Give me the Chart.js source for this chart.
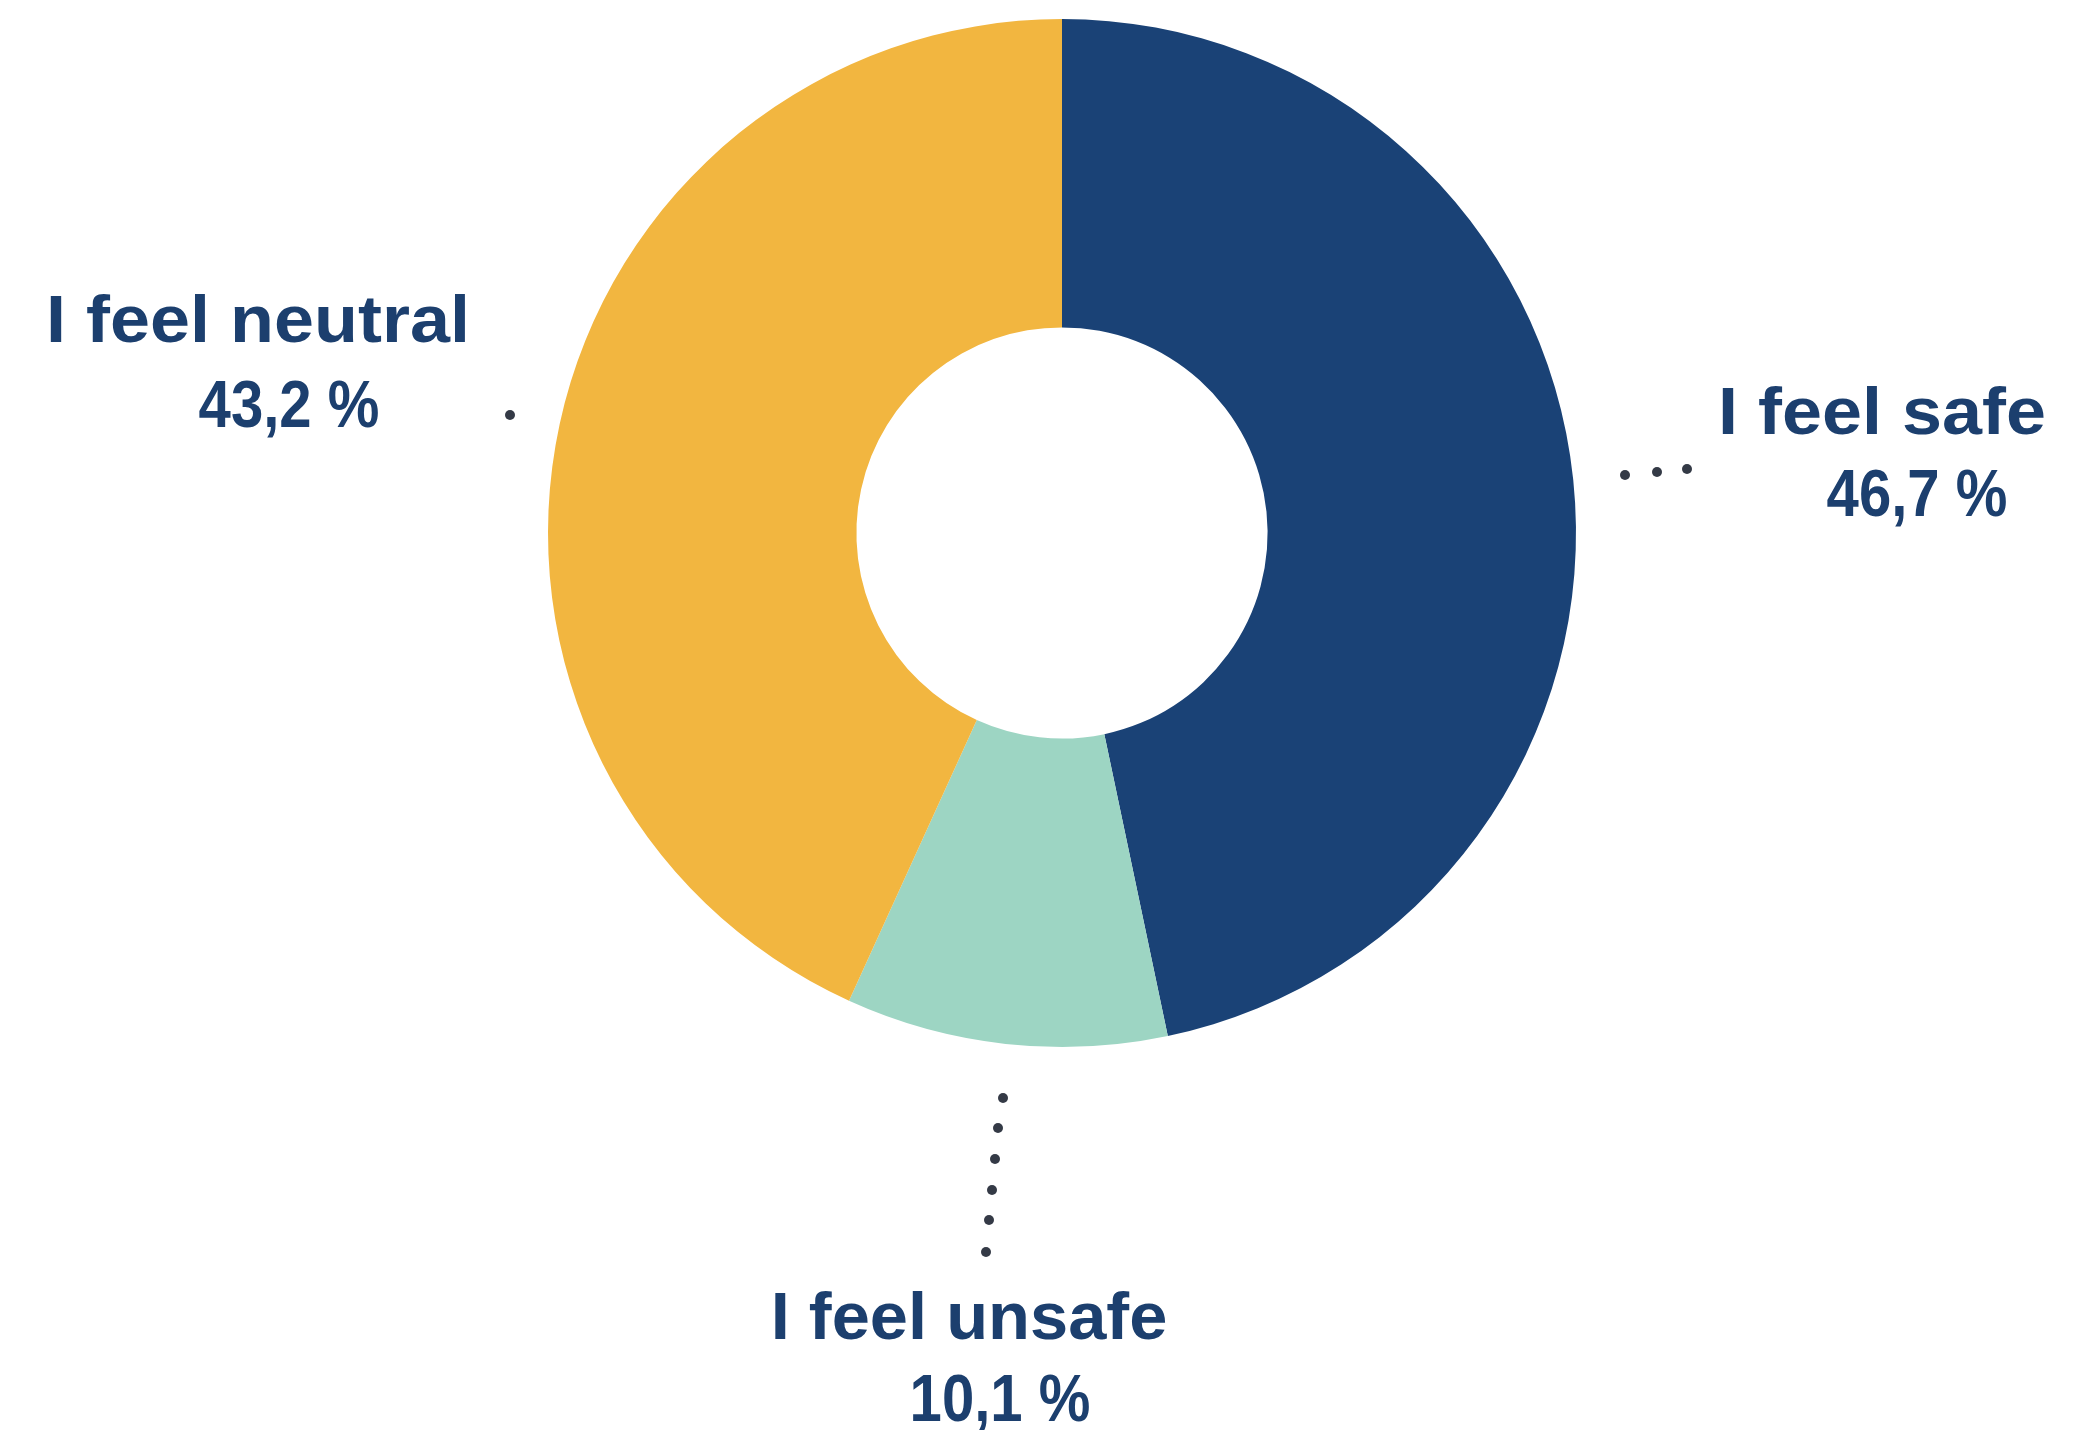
<!DOCTYPE html>
<html>
<head>
<meta charset="utf-8">
<script src="https://cdn.jsdelivr.net/npm/chart.js@4.4.1/dist/chart.umd.min.js"></script>
<style>
  html, body { margin: 0; padding: 0; background: #ffffff; }
  #wrap { width: 2095px; height: 1430px; position: relative; }
</style>
</head>
<body>
<div id="wrap"><canvas id="chart"></canvas></div>
<script>
// Data
const categories = ['I feel safe', 'I feel unsafe', 'I feel neutral'];
const shares = [46.7, 10.1, 43.2];
const sliceColors = ['#1a4276', '#9dd5c3', '#f2b640'];

const textColor = '#1c3f6e';
const dotColor = '#343a46';

// Label anchors, offsets from the donut centre (line 1, line 2)
const labelOffsets = [
  [[820, -117], [855, -35]],
  [[-93, 788], [-62, 870]],
  [[-804, -209], [-773, -124]],
];

// Leader dots, offsets from the donut centre
const leaderDots = [
  [[563, -58], [595, -61], [625, -64]],
  [[-59, 565], [-64, 595], [-67, 626], [-70, 657], [-73, 687], [-76, 719]],
  [[-552, -118]],
];

// Draws the labels and dotted leaders next to each slice
const labelPlugin = {
  id: 'sliceLabels',
  afterDatasetsDraw(chart) {
    const { ctx } = chart;
    const arc = chart.getDatasetMeta(0).data[0];
    const cx = arc.x;
    const cy = arc.y;

    ctx.save();
    ctx.fillStyle = dotColor;
    leaderDots.forEach((dots) => {
      dots.forEach(([dx, dy]) => {
        ctx.beginPath();
        ctx.arc(cx + dx, cy + dy, 5, 0, Math.PI * 2);
        ctx.fill();
      });
    });

    ctx.fillStyle = textColor;
    ctx.font = 'bold 66px "Liberation Sans Narrow", "Liberation Sans", sans-serif';
    ctx.textAlign = 'center';
    ctx.textBaseline = 'middle';

    // Horizontal stretch to get close to the handwritten source font
    const drawText = (text, x, y, stretch) => {
      ctx.save();
      ctx.translate(x, y);
      ctx.scale(stretch, 1);
      ctx.fillText(text, 0, 0);
      ctx.restore();
    };

    categories.forEach((name, i) => {
      const value = shares[i].toFixed(1).replace('.', ',') + ' %';
      const [l1, l2] = labelOffsets[i];
      drawText(name, cx + l1[0], cy + l1[1], i === 1 ? 1.04 : 1.09);
      drawText(value, cx + l2[0], cy + l2[1], 0.88);
    });
    ctx.restore();
  },
};

new Chart(document.getElementById('chart'), {
  type: 'doughnut',
  data: {
    labels: categories,
    datasets: [
      {
        data: shares,
        backgroundColor: sliceColors,
        borderWidth: 0,
      },
    ],
  },
  options: {
    responsive: true,
    maintainAspectRatio: false,
    animation: false,
    cutout: '40%',
    layout: { padding: { left: 548, right: 519, top: 19, bottom: 383 } },
    plugins: {
      legend: { display: false },
      tooltip: { enabled: false },
    },
  },
  plugins: [labelPlugin],
});
</script>
</body>
</html>
